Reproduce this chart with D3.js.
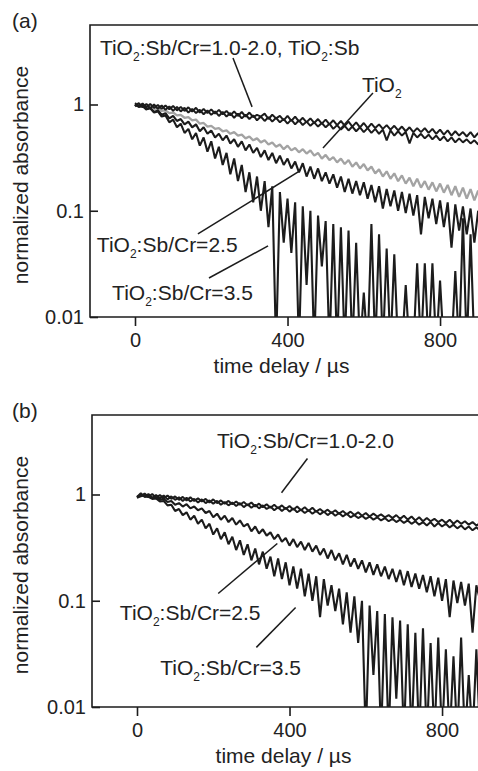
<!DOCTYPE html>
<html lang="en">
<head>
<meta charset="UTF-8">
<title>Transient absorption decays</title>
<script src="https://d3js.org/d3.v7.min.js"></script>
<style>
  body { margin: 0; background: #fff; }
  svg { display: block; font-family: "Liberation Sans", Arial, Helvetica, sans-serif; }
</style>
</head>
<body>
<div id="chart"></div>
<script>
// sampling grid of the traces (µs)
const timeUs = d3.range(0, 901, 10);
const xTicks = [0, 400, 800];
const yTicks = [1, 0.1, 0.01];
const yTickLabels = ["1", "0.1", "0.01"];

// panel (a), 10 µs apart
const aSbCrLowA = [
  1.03, 0.96, 1.02, 0.94, 1.01, 0.93, 0.99, 0.91, 0.98, 0.90,
  0.97, 0.88, 0.95, 0.87, 0.94, 0.86, 0.93, 0.84, 0.91, 0.83,
  0.90, 0.82, 0.89, 0.81, 0.87, 0.79, 0.86, 0.78, 0.85, 0.77,
  0.84, 0.76, 0.80, 0.77, 0.82, 0.73, 0.80, 0.74, 0.78, 0.71,
  0.78, 0.70, 0.77, 0.69, 0.75, 0.68, 0.74, 0.67, 0.73, 0.66,
  0.72, 0.65, 0.71, 0.64, 0.70, 0.63, 0.69, 0.62, 0.68, 0.61,
  0.67, 0.60, 0.66, 0.60, 0.65, 0.59, 0.64, 0.58, 0.63, 0.57,
  0.62, 0.56, 0.61, 0.55, 0.60, 0.55, 0.60, 0.54, 0.59, 0.53,
  0.58, 0.52, 0.57, 0.51, 0.56, 0.51, 0.55, 0.50, 0.55, 0.49,
  0.54
];
const aSbCrLowB = [
  0.96, 1.03, 0.94, 1.01, 0.92, 1.00, 0.91, 0.98, 0.89, 0.96,
  0.87, 0.95, 0.86, 0.93, 0.84, 0.91, 0.83, 0.89, 0.81, 0.88,
  0.80, 0.86, 0.78, 0.85, 0.77, 0.83, 0.75, 0.82, 0.74, 0.80,
  0.73, 0.79, 0.71, 0.77, 0.70, 0.76, 0.69, 0.75, 0.68, 0.73,
  0.66, 0.72, 0.65, 0.71, 0.64, 0.69, 0.63, 0.68, 0.62, 0.67,
  0.61, 0.66, 0.59, 0.64, 0.58, 0.63, 0.57, 0.62, 0.56, 0.61,
  0.55, 0.60, 0.54, 0.59, 0.53, 0.58, 0.46, 0.57, 0.51, 0.56,
  0.51, 0.55, 0.43, 0.54, 0.49, 0.53, 0.48, 0.52, 0.47, 0.51,
  0.46, 0.50, 0.45, 0.49, 0.44, 0.48, 0.44, 0.47, 0.43, 0.46,
  0.42
];
const aTiO2 = [
  1.00, 0.97, 0.98, 0.94, 0.95, 0.91, 0.92, 0.87, 0.88, 0.83,
  0.84, 0.79, 0.80, 0.75, 0.76, 0.71, 0.72, 0.66, 0.67, 0.62,
  0.63, 0.59, 0.60, 0.56, 0.57, 0.53, 0.55, 0.51, 0.52, 0.48,
  0.50, 0.46, 0.48, 0.44, 0.46, 0.42, 0.44, 0.40, 0.42, 0.38,
  0.41, 0.37, 0.39, 0.355, 0.38, 0.345, 0.37, 0.33, 0.35, 0.31,
  0.335, 0.30, 0.32, 0.285, 0.31, 0.275, 0.30, 0.26, 0.285, 0.25,
  0.275, 0.24, 0.26, 0.225, 0.245, 0.21, 0.235, 0.20, 0.225, 0.19,
  0.215, 0.18, 0.205, 0.17, 0.20, 0.165, 0.19, 0.158, 0.185, 0.152,
  0.18, 0.148, 0.175, 0.14, 0.17, 0.135, 0.165, 0.13, 0.16, 0.125,
  0.155
];
const aSbCr25 = [
  1.00, 0.95, 0.97, 0.90, 0.93, 0.85, 0.88, 0.80, 0.83, 0.74,
  0.78, 0.70, 0.73, 0.65, 0.69, 0.61, 0.65, 0.56, 0.61, 0.53,
  0.57, 0.49, 0.53, 0.46, 0.51, 0.43, 0.47, 0.40, 0.45, 0.37,
  0.42, 0.35, 0.39, 0.32, 0.37, 0.30, 0.35, 0.28, 0.33, 0.27,
  0.31, 0.25, 0.29, 0.23, 0.28, 0.21, 0.26, 0.20, 0.25, 0.19,
  0.23, 0.18, 0.22, 0.165, 0.21, 0.15, 0.20, 0.145, 0.19, 0.14,
  0.185, 0.13, 0.175, 0.12, 0.17, 0.105, 0.16, 0.11, 0.155, 0.10,
  0.15, 0.095, 0.145, 0.09, 0.14, 0.06, 0.135, 0.085, 0.13, 0.075,
  0.125, 0.07, 0.12, 0.045, 0.115, 0.065, 0.11, 0.06, 0.105, 0.05,
  0.10
];
// values below 0.01 fall under the axis (clipped, as in the original)
const aSbCr35 = [
  1.00, 0.96, 0.97, 0.90, 0.92, 0.84, 0.86, 0.77, 0.79, 0.68,
  0.72, 0.61, 0.66, 0.54, 0.59, 0.47, 0.54, 0.41, 0.49, 0.36,
  0.45, 0.31, 0.40, 0.27, 0.35, 0.22, 0.31, 0.19, 0.27, 0.15,
  0.23, 0.12, 0.21, 0.10, 0.19, 0.07, 0.17, 0.005, 0.15, 0.05,
  0.13, 0.04, 0.12, 0.005, 0.11, 0.02, 0.10, 0.005, 0.09, 0.03,
  0.08, 0.005, 0.075, 0.005, 0.07, 0.005, 0.065, 0.005, 0.05, 0.005,
  0.017, 0.005, 0.075, 0.005, 0.06, 0.005, 0.044, 0.005, 0.039, 0.005,
  0.005, 0.02, 0.005, 0.005, 0.032, 0.005, 0.032, 0.005, 0.032, 0.005,
  0.022, 0.005, 0.005, 0.005, 0.027, 0.005, 0.085, 0.005, 0.06, 0.005,
  0.005
];

// panel (b)
const bSbCrLowA = [
  0.93, 0.96, 1.02, 0.95, 1.01, 0.93, 0.99, 0.92, 0.98, 0.91,
  0.96, 0.89, 0.95, 0.88, 0.94, 0.87, 0.92, 0.86, 0.91, 0.84,
  0.90, 0.83, 0.88, 0.82, 0.87, 0.81, 0.86, 0.80, 0.85, 0.79,
  0.84, 0.77, 0.82, 0.76, 0.81, 0.75, 0.80, 0.74, 0.79, 0.73,
  0.78, 0.72, 0.77, 0.71, 0.76, 0.70, 0.75, 0.69, 0.73, 0.68,
  0.72, 0.67, 0.71, 0.66, 0.70, 0.65, 0.69, 0.64, 0.68, 0.63,
  0.67, 0.62, 0.66, 0.62, 0.65, 0.61, 0.64, 0.60, 0.64, 0.59,
  0.63, 0.58, 0.62, 0.57, 0.61, 0.56, 0.60, 0.56, 0.59, 0.55,
  0.58, 0.54, 0.58, 0.53, 0.57, 0.53, 0.56, 0.52, 0.55, 0.51,
  0.54
];
const bSbCrLowB = [
  0.95, 1.03, 0.95, 1.01, 0.93, 0.99, 0.92, 0.98, 0.90, 0.96,
  0.89, 0.94, 0.87, 0.93, 0.86, 0.91, 0.84, 0.90, 0.83, 0.88,
  0.82, 0.87, 0.80, 0.85, 0.79, 0.84, 0.78, 0.83, 0.76, 0.81,
  0.75, 0.80, 0.74, 0.79, 0.73, 0.77, 0.71, 0.76, 0.70, 0.75,
  0.69, 0.74, 0.68, 0.72, 0.67, 0.71, 0.66, 0.70, 0.65, 0.69,
  0.64, 0.68, 0.63, 0.67, 0.62, 0.66, 0.61, 0.64, 0.60, 0.63,
  0.59, 0.62, 0.58, 0.61, 0.57, 0.60, 0.56, 0.59, 0.55, 0.58,
  0.54, 0.57, 0.53, 0.56, 0.52, 0.55, 0.51, 0.55, 0.50, 0.54,
  0.50, 0.53, 0.49, 0.52, 0.48, 0.51, 0.47, 0.50, 0.46, 0.49,
  0.46
];
const bSbCr25 = [
  0.94, 0.99, 0.96, 0.97, 0.93, 0.94, 0.89, 0.91, 0.85, 0.87,
  0.80, 0.83, 0.77, 0.81, 0.74, 0.77, 0.71, 0.74, 0.67, 0.70,
  0.61, 0.66, 0.58, 0.63, 0.55, 0.60, 0.52, 0.57, 0.50, 0.53,
  0.45, 0.50, 0.43, 0.47, 0.41, 0.44, 0.38, 0.42, 0.36, 0.39,
  0.33, 0.38, 0.32, 0.36, 0.30, 0.35, 0.29, 0.33, 0.27, 0.31,
  0.25, 0.30, 0.24, 0.28, 0.22, 0.27, 0.21, 0.25, 0.20, 0.24,
  0.185, 0.23, 0.175, 0.22, 0.17, 0.21, 0.16, 0.20, 0.15, 0.195,
  0.14, 0.19, 0.135, 0.18, 0.13, 0.175, 0.12, 0.17, 0.11, 0.165,
  0.10, 0.16, 0.07, 0.155, 0.095, 0.15, 0.09, 0.145, 0.05, 0.14,
  0.10
];
const bSbCr35 = [
  0.95, 0.99, 0.96, 0.95, 0.91, 0.92, 0.86, 0.87, 0.79, 0.80,
  0.70, 0.73, 0.64, 0.68, 0.58, 0.63, 0.53, 0.58, 0.48, 0.53,
  0.42, 0.48, 0.38, 0.44, 0.34, 0.40, 0.30, 0.37, 0.27, 0.34,
  0.24, 0.31, 0.22, 0.29, 0.20, 0.26, 0.17, 0.25, 0.16, 0.23,
  0.14, 0.21, 0.13, 0.20, 0.11, 0.18, 0.10, 0.17, 0.07, 0.16,
  0.09, 0.14, 0.08, 0.13, 0.06, 0.12, 0.05, 0.11, 0.04, 0.10,
  0.005, 0.09, 0.02, 0.08, 0.005, 0.075, 0.005, 0.07, 0.012, 0.065,
  0.005, 0.06, 0.005, 0.05, 0.005, 0.055, 0.005, 0.04, 0.005, 0.045,
  0.005, 0.035, 0.005, 0.03, 0.005, 0.045, 0.005, 0.02, 0.005, 0.035,
  0.005
];

const W = 478, H = 771;
const plotW = 400, plotH = 292;
const ink = "#1c1c1c";

const svg = d3.select("#chart").append("svg")
    .attr("width", W)
    .attr("height", H);

// writes "TiO2" with a subscript 2
function chemText(sel, str) {
    const parts = str.split(/(?<=O)2(?=:|$)/);
    parts.forEach((p, i) => {
        if (i > 0) {
            sel.append("tspan").attr("font-size", 12).attr("dy", 6).text("2");
            sel.append("tspan").attr("dy", -6).text(p);
        } else {
            sel.append("tspan").text(p);
        }
    });
}

function drawPanel(p) {
    const x = d3.scaleLinear().domain([-118, 931]).range([p.left, p.left + plotW]);
    const y = d3.scaleLog().domain([0.01, 5.6]).range([p.top + plotH, p.top]);
    const bottom = p.top + plotH;
    const g = svg.append("g");

    g.append("clipPath").attr("id", "clip-" + p.id)
        .append("rect")
        .attr("x", p.left).attr("y", p.top)
        .attr("width", plotW).attr("height", plotH);

    const line = d3.line()
        .x((d, i) => x(timeUs[i]))
        .y(d => y(d));

    g.append("g").attr("clip-path", `url(#clip-${p.id})`)
        .selectAll("path")
        .data(p.series)
        .enter()
        .append("path")
        .attr("d", d => line(d.values))
        .attr("fill", "none")
        .attr("stroke", d => d.color)
        .attr("stroke-width", d => d.width)
        .attr("stroke-linejoin", "bevel");

    // frame: top, left, bottom (right side is cut off in the original)
    g.append("path")
        .attr("d", `M${p.left + plotW},${p.top}H${p.left}V${bottom}H${p.left + plotW}`)
        .attr("fill", "none")
        .attr("stroke", ink)
        .attr("stroke-width", 1.6);

    const xAxis = g.append("g")
        .attr("transform", `translate(0,${bottom})`)
        .call(d3.axisBottom(x).tickValues(xTicks).tickSize(9).tickPadding(7));
    const yAxis = g.append("g")
        .attr("transform", `translate(${p.left},0)`)
        .call(d3.axisLeft(y).tickValues(yTicks)
            .tickFormat((d, i) => yTickLabels[i])
            .tickSize(-8).tickPadding(6));

    [xAxis, yAxis].forEach(a => {
        a.select(".domain").remove();
        a.selectAll("line").attr("stroke", ink).attr("stroke-width", 1.6);
        a.selectAll("text").attr("fill", "#222").attr("font-size", 20)
            .attr("font-family", "Liberation Sans, Arial, sans-serif");
    });

    g.append("text")
        .attr("x", x(400) - 6)
        .attr("y", bottom + 56)
        .attr("text-anchor", "middle")
        .attr("font-size", 21)
        .attr("fill", "#222")
        .text("time delay / µs");

    g.append("text")
        .attr("transform", `translate(28,${p.top + plotH / 2 + 4}) rotate(-90)`)
        .attr("text-anchor", "middle")
        .attr("font-size", 21)
        .attr("fill", "#222")
        .text("normalized absorbance");

    g.append("text")
        .attr("x", 12)
        .attr("y", p.top + 3)
        .attr("font-size", 21)
        .attr("fill", "#222")
        .text(p.tag);

    // annotations, placed in data coordinates
    p.notes.forEach(n => {
        g.append("line")
            .attr("x1", x(n.from[0])).attr("y1", y(n.from[1]))
            .attr("x2", x(n.to[0])).attr("y2", y(n.to[1]))
            .attr("stroke", ink)
            .attr("stroke-width", 1.5);
        const t = g.append("text")
            .attr("x", x(n.at[0]))
            .attr("y", y(n.at[1]))
            .attr("font-size", 21)
            .attr("fill", "#222");
        chemText(t, n.text);
    });
}

drawPanel({
    id: "a", tag: "(a)", left: 90, top: 25,
    series: [
        { values: aTiO2, color: "#a3a3a3", width: 2.3 },
        { values: aSbCr35, color: ink, width: 2.1 },
        { values: aSbCr25, color: ink, width: 2.1 },
        { values: aSbCrLowB, color: ink, width: 2.0 },
        { values: aSbCrLowA, color: ink, width: 2.0 }
    ],
    notes: [
        { text: "TiO2:Sb/Cr=1.0-2.0, TiO2:Sb", at: [-92, 2.92], from: [257, 2.74], to: [307, 0.95] },
        { text: "TiO2", at: [595, 1.31], from: [624, 1.28], to: [493, 0.39] },
        { text: "TiO2:Sb/Cr=2.5", at: [-100, 0.041], from: [165, 0.0605], to: [428, 0.232] },
        { text: "TiO2:Sb/Cr=3.5", at: [-60, 0.0145], from: [194, 0.0233], to: [349, 0.0467] }
    ]
});

drawPanel({
    id: "b", tag: "(b)", left: 92, top: 415,
    series: [
        { values: bSbCr35, color: ink, width: 2.1 },
        { values: bSbCr25, color: ink, width: 2.1 },
        { values: bSbCrLowB, color: ink, width: 2.0 },
        { values: bSbCrLowA, color: ink, width: 2.0 }
    ],
    notes: [
        { text: "TiO2:Sb/Cr=1.0-2.0", at: [210, 2.71], from: [447, 2.18], to: [379, 1.04] },
        { text: "TiO2:Sb/Cr=2.5", at: [-45, 0.0653], from: [213, 0.117], to: [368, 0.346] },
        { text: "TiO2:Sb/Cr=3.5", at: [61, 0.0198], from: [313, 0.0364], to: [416, 0.0865] }
    ]
});
</script>
</body>
</html>
